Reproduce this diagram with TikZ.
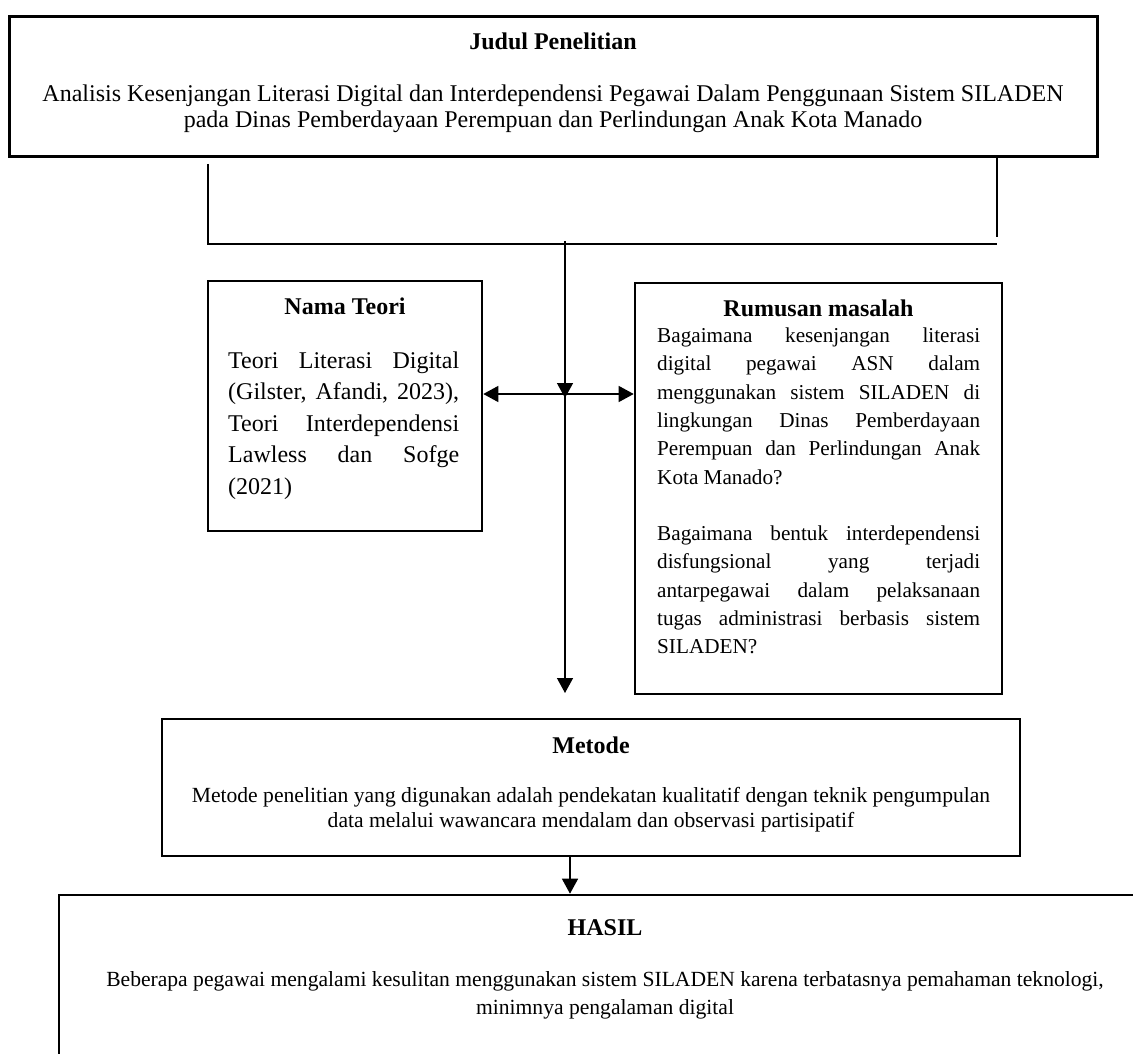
\documentclass[tikz,border=0pt]{standalone}
\usepackage{fontspec}
\setmainfont{Liberation Serif}
\usetikzlibrary{arrows.meta}
\begin{document}
\begin{tikzpicture}[x=1pt,y=-1pt,
  box/.style={draw, line width=2.6pt, inner sep=0pt},
  conn/.style={line width=1.4pt},
  arr/.style={conn, -{Triangle[length=15pt,width=16pt]}},
  big/.style={font=\fontsize{24}{28}\selectfont},
  small/.style={font=\fontsize{21.6}{26}\selectfont},
  rum/.style={font=\fontsize{21.2}{26}\selectfont},
  txt/.style={anchor=base, inner sep=0pt},
  jl/.style={anchor=base west, inner sep=0pt},
]
\path[use as bounding box, clip] (0,0) rectangle (1133,1054);

% boxes
\node[box, line width=3pt, minimum width=1088pt, minimum height=140pt] (judul) at (553,87) {};
\node[box, minimum width=274pt, minimum height=250pt] (teori) at (345,406) {};
\node[box, minimum width=367pt, minimum height=411pt] (rumusan) at (818.5,488.5) {};
\node[box, minimum width=858pt, minimum height=137pt] (metode) at (591,787.5) {};
\node[box, minimum width=1092pt, minimum height=195pt] (hasil) at (605,992.5) {};

% Judul text
\node[txt,big] (jt) at (553,50) {\bfseries Judul Penelitian};
\node[txt,big] (j1) at (553,102) {Analisis Kesenjangan Literasi Digital dan Interdependensi Pegawai Dalam Penggunaan Sistem SILADEN};
\node[txt,big] (j2) at (553,128) {pada Dinas Pemberdayaan Perempuan dan Perlindungan Anak Kota Manado};

% Nama Teori text
\node[txt,big] (tt) at (345,314) {\bfseries Nama Teori};
\node[jl,big] (t1) at (228,368) {\makebox[231pt][s]{Teori Literasi Digital}};
\node[jl,big] (t2) at (228,399.5) {\makebox[231pt][s]{(Gilster, Afandi, 2023),}};
\node[jl,big] (t3) at (228,431) {\makebox[231pt][s]{Teori Interdependensi}};
\node[jl,big] (t4) at (228,462.5) {\makebox[231pt][s]{Lawless dan Sofge}};
\node[jl,big] (t5) at (228,494) {(2021)};

% Rumusan text
\node[txt,big] (rt) at (818.5,316.5) {\bfseries Rumusan masalah};
\node[jl,rum] (r1) at (657,342.5) {\makebox[323pt][s]{Bagaimana kesenjangan literasi}};
\node[jl,rum] (r2) at (657,370.8) {\makebox[323pt][s]{digital pegawai ASN dalam}};
\node[jl,rum] (r3) at (657,399.1) {\makebox[323pt][s]{menggunakan sistem SILADEN di}};
\node[jl,rum] (r4) at (657,427.4) {\makebox[323pt][s]{lingkungan Dinas Pemberdayaan}};
\node[jl,rum] (r5) at (657,455.7) {\makebox[323pt][s]{Perempuan dan Perlindungan Anak}};
\node[jl,rum] (r6) at (657,484.0) {Kota Manado?};
\node[jl,rum] (r7) at (657,540.6) {\makebox[323pt][s]{Bagaimana bentuk interdependensi}};
\node[jl,rum] (r8) at (657,568.9) {\makebox[323pt][s]{disfungsional yang terjadi}};
\node[jl,rum] (r9) at (657,597.2) {\makebox[323pt][s]{antarpegawai dalam pelaksanaan}};
\node[jl,rum] (r10) at (657,625.5) {\makebox[323pt][s]{tugas administrasi berbasis sistem}};
\node[jl,rum] (r11) at (657,653.8) {SILADEN?};

% Metode text
\node[txt,big] (mt) at (591,753) {\bfseries Metode};
\node[txt,small] (m1) at (591,802) {Metode penelitian yang digunakan adalah pendekatan kualitatif dengan teknik pengumpulan};
\node[txt,small] (m2) at (591,827) {data melalui wawancara mendalam dan observasi partisipatif};

% Hasil text
\node[txt,big] (ht) at (605,935) {\bfseries HASIL};
\node[txt,small] (h1) at (605,986) {Beberapa pegawai mengalami kesulitan menggunakan sistem SILADEN karena terbatasnya pemahaman teknologi,};
\node[txt,small] (h2) at (605,1014) {minimnya pengalaman digital};

% connector coordinates
\coordinate (lt) at (208,164);
\coordinate (lb) at (208,244);
\coordinate (rb) at (997,244);
\coordinate (rr) at (997,237);
\coordinate (ct) at (565,241);
\coordinate (hy) at (565,394);
\coordinate (cb) at (565,693);
\coordinate (mx) at (570,0);

\draw[conn] (judul.south -| rr) -- (rr);
\draw[conn] (lt) -- (lb) -- (rb);
\draw[arr] (ct) -- ([yshift=-4pt]hy);
\draw[conn, {Triangle[length=15pt,width=16pt]}-{Triangle[length=15pt,width=16pt]}] (teori.east |- hy) -- (rumusan.west |- hy);
\draw[arr] (hy) -- (cb);
\draw[arr] (metode.south -| mx) -- (hasil.north -| mx);
\end{tikzpicture}
\end{document}
